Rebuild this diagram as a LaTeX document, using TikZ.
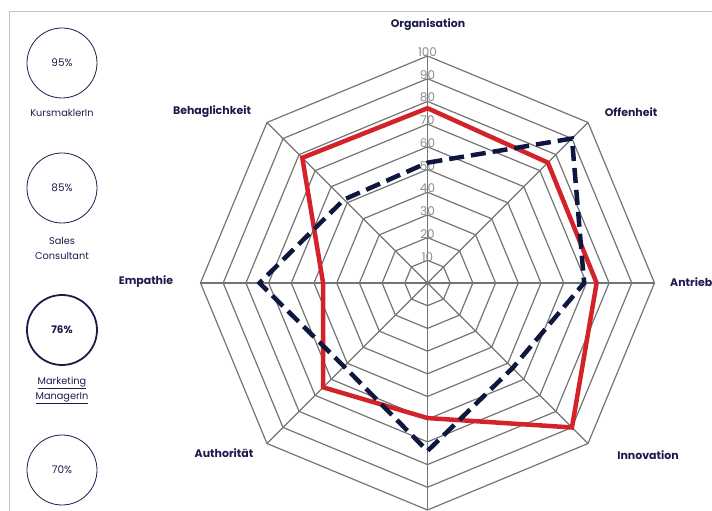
\documentclass[tikz,border=0pt]{standalone}
\usepackage{fontspec}
\setmainfont{Poppins}
\definecolor{navy}{HTML}{1B1B4B}
\definecolor{gridc}{HTML}{747474}
\definecolor{redc}{HTML}{D2232A}
\definecolor{dashc}{HTML}{0F1640}
\definecolor{numc}{HTML}{8A8A8A}
\definecolor{framec}{HTML}{C4C4C4}
\begin{document}
\begin{tikzpicture}[x=1bp,y=1bp,
 gridline/.style={draw=gridc,line width=1.2bp},
 axislabel/.style={font=\fontsize{11}{13}\selectfont\bfseries,text=navy,inner sep=0},
 numlabel/.style={font=\fontsize{12}{14}\selectfont,text=numc,anchor=south,inner sep=0bp},
 pct/.style={circle,draw=navy,line width=0.8bp,minimum size=70bp,inner sep=0,font=\fontsize{10.5}{12}\selectfont,text=navy},
 role/.style={font=\fontsize{9.8}{15}\selectfont,text=navy,align=center,inner sep=0},
 redline/.style={draw=redc,line width=4.5bp,line join=miter},
 dashline/.style={draw=dashc,line width=4.5bp,dash pattern=on 15bp off 7bp}]
\useasboundingbox (-427.5,-228) rectangle (284.5,283);
% frame
\coordinate (f1) at (-417.5,-228);
\coordinate (f2) at (-417.5,271);
\coordinate (f3) at (284.5,271);
\draw[draw=framec,line width=1bp] (f1) -- (f2) -- (f3);
% grid
\coordinate (O) at (0,0);
\foreach \i in {1,...,10}{
  \pgfmathsetmacro{\r}{\i*22.7}
  \draw[gridline] (0:\r) -- (45:\r) -- (90:\r) -- (135:\r) -- (180:\r) -- (225:\r) -- (270:\r) -- (315:\r) -- cycle;
}
\foreach \a in {0,45,...,315}
  \draw[gridline] (O) -- (\a:227);
\foreach \v in {10,20,...,100}
  \node[numlabel] (n\v) at (90:\v*2.27-1) {\v};
% red series
\coordinate (r1) at (90:77*2.27);
\coordinate (r2) at (45:75*2.27);
\coordinate (r3) at (0:74.5*2.27);
\coordinate (r4) at (-45:90*2.27);
\coordinate (r5) at (-90:59.5*2.27);
\coordinate (r6) at (-135:65*2.27);
\coordinate (r7) at (180:46*2.27);
\coordinate (r8) at (135:78*2.27);
\draw[redline] (r1) -- (r2) -- (r3) -- (r4) -- (r5) -- (r6) -- (r7) -- (r8) -- cycle;
% dashed series
\coordinate (d1) at (90:53*2.27);
\coordinate (d2) at (45:90*2.27);
\coordinate (d3) at (0:69*2.27);
\coordinate (d4) at (-45:53*2.27);
\coordinate (d5) at (-90:74*2.27);
\coordinate (d6) at (-135:52*2.27);
\coordinate (d7) at (180:74*2.27);
\coordinate (d8) at (135:52*2.27);
\draw[dashline] (d1) -- (d2) -- (d3) -- (d4) -- (d5) -- (d6) -- (d7) -- (d8) -- cycle;
% axis labels
\node[axislabel] (lorg) at (0.5,258) {Organisation};
\node[axislabel] (loff) at (203.5,171) {Offenheit};
\node[axislabel,anchor=west] (lant) at (242.5,1) {Antrieb};
\node[axislabel] (linn) at (220.5,-172) {Innovation};
\node[axislabel] (laut) at (-203.5,-170) {Authorität};
\node[axislabel] (lemp) at (-281.5,1) {Empathie};
\node[axislabel] (lbeh) at (-215.5,171) {Behaglichkeit};
% left panel
\node[pct] (c1) at (-365.5,220) {95\%};
\node[role] (t1) at (-365.5,170) {KursmaklerIn};
\node[pct] (c2) at (-365.5,95) {85\%};
\node[role] (t2) at (-365.5,34.5) {Sales\\Consultant};
\node[pct,line width=1.8bp,font=\fontsize{10.5}{12}\selectfont\bfseries] (c3) at (-365.5,-47) {76\%};
\node[role] (t3) at (-365.5,-107.5) {\underline{Marketing}\\\underline{ManagerIn}};
\node[pct] (c4) at (-365.5,-187) {70\%};
\end{tikzpicture}
\end{document}
